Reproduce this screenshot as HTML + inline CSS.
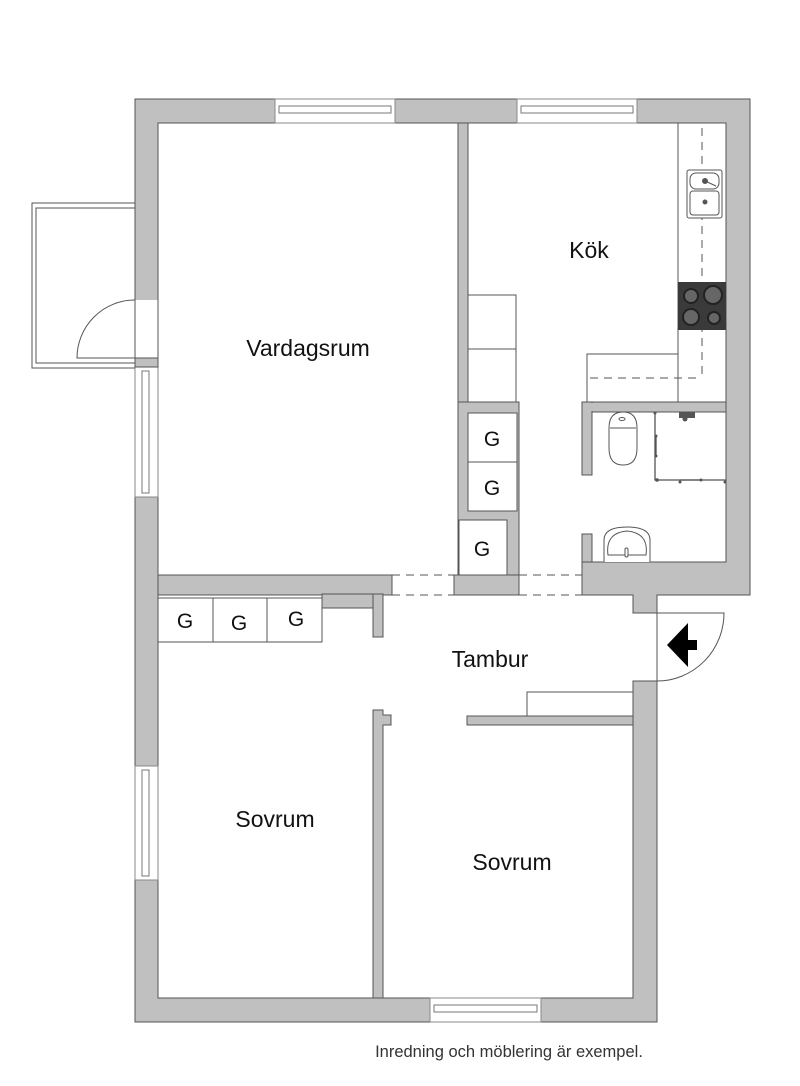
<!DOCTYPE html>
<html><head><meta charset="utf-8"><style>
html,body{margin:0;padding:0;background:#fff;width:800px;height:1086px;overflow:hidden}
svg{display:block}
text{font-family:"Liberation Sans",Arial,sans-serif;fill:#111}
</style></head><body>
<svg width="800" height="1086" viewBox="0 0 800 1086" xmlns="http://www.w3.org/2000/svg">
<g stroke="#555" stroke-width="1" fill="#c0c0c0">
<polygon points="135,99 750,99 750,595 657,595 657,1022 135,1022"/>
<polygon fill="#fff" points="158,123 726,123 726,562 582,562 582,595 633,595 633,613 657,613 657,681 633,681 633,998 158,998"/>
<rect x="458" y="123" width="10" height="279"/>
<rect x="458" y="402" width="61" height="193"/>
<rect x="454" y="575" width="65" height="20"/>
<rect x="158" y="575" width="234" height="20"/>
<rect x="322" y="594" width="51" height="14"/>
<rect x="373" y="594" width="10" height="43"/>
<path d="M373,710 H383 V715 H391 V725 H383 V998 H373 Z"/>
<rect x="467" y="716" width="166" height="9"/>
<rect x="582" y="402" width="144" height="10"/>
<rect x="582" y="402" width="10" height="73"/>
<rect x="582" y="534" width="10" height="28"/>
</g>
<rect x="583" y="403" width="10" height="8" fill="#c0c0c0"/>
<g fill="#fff" stroke="#555" stroke-width="1">
<rect x="468" y="295" width="48" height="54"/>
<rect x="468" y="349" width="48" height="53"/>
<rect x="468" y="413" width="49" height="49"/>
<rect x="468" y="462" width="49" height="49"/>
<rect x="459" y="520" width="48" height="55"/>
<rect x="678" y="123" width="48" height="279"/>
<rect x="587" y="354" width="91" height="48"/>
<rect x="158" y="598" width="55" height="44"/>
<rect x="213" y="598" width="54" height="44"/>
<rect x="267" y="598" width="55" height="44"/>
<rect x="527" y="692" width="106" height="24"/>
<rect x="275" y="99" width="120" height="24" stroke="#888"/>
<rect x="279" y="106" width="112" height="7" stroke="#777"/>
<rect x="517" y="99" width="120" height="24" stroke="#888"/>
<rect x="521" y="106" width="112" height="7" stroke="#777"/>
<rect x="135" y="367" width="23" height="130" stroke="#888"/>
<rect x="142" y="371" width="7" height="122" stroke="#777"/>
<rect x="135" y="766" width="23" height="114" stroke="#888"/>
<rect x="142" y="770" width="7" height="106" stroke="#777"/>
<rect x="430" y="998" width="111" height="24" stroke="#888"/>
<rect x="434" y="1005" width="103" height="7" stroke="#777"/>
</g>
<rect x="134" y="300" width="25" height="58" fill="#fff"/>
<line x1="158" y1="300" x2="158" y2="358" stroke="#555"/>
<rect x="135" y="358" width="23" height="9" fill="#c0c0c0" stroke="#555"/>
<g fill="none" stroke="#555">
<path d="M135,203 H32 V368 H135"/>
<path d="M135,208 H36 V363 H135"/>
<path d="M135,300 A58,58 0 0 0 77,358 H135"/>
<line x1="135" y1="300" x2="135" y2="358"/>
</g>
<g stroke="#555" stroke-dasharray="8,6" fill="none">
<line x1="392" y1="575" x2="454" y2="575"/>
<line x1="392" y1="595" x2="454" y2="595"/>
<line x1="519" y1="575" x2="582" y2="575"/>
<line x1="519" y1="595" x2="582" y2="595"/>
<line x1="702" y1="128" x2="702" y2="378"/>
<line x1="590" y1="378" x2="702" y2="378"/>
</g>
<rect x="633" y="613" width="24" height="68" fill="#fff"/>
<g fill="none" stroke="#555">
<line x1="657" y1="613" x2="657" y2="681"/>
<path d="M657,613 H724 A67,68 0 0 1 657,681"/>
<line x1="633" y1="681" x2="657" y2="681"/>
<line x1="633" y1="613" x2="657" y2="613"/>
</g>
<polygon points="667,645 688,623 688,640 697,640 697,650 688,650 688,667" fill="#000"/>
<g stroke="#555" fill="#fff">
<rect x="687" y="170" width="35" height="48" rx="2"/>
<rect x="690" y="173" width="29" height="16" rx="6"/>
<rect x="690" y="191" width="29" height="24" rx="3"/>
<circle cx="705" cy="181" r="2.5" fill="#555"/>
<circle cx="705" cy="202" r="2" fill="#555"/>
<line x1="705" y1="181" x2="716" y2="186"/>
</g>
<rect x="678" y="282" width="48" height="48" fill="#3a3a3a"/>
<g stroke="#222" fill="#666" stroke-width="2">
<circle cx="691" cy="296" r="7"/>
<circle cx="713" cy="295" r="9"/>
<circle cx="691" cy="317" r="8"/>
<circle cx="714" cy="318" r="6"/>
</g>
<g stroke="#555" fill="#fff">
<path d="M609,428 Q609,412 623,412 Q637,412 637,428 L637,448 Q637,465 623,465 Q609,465 609,448 Z"/>
<path d="M610,428 H636"/>
<ellipse cx="622" cy="419" rx="3" ry="1.5"/>
<path d="M604,562 V540 Q604,527 627,527 Q650,527 650,540 V562"/>
<path d="M608,555 Q605,533 627,531 Q649,533 646,555 Z"/>
<rect x="625" y="548" width="3" height="9" rx="1.5"/>
</g>
<g stroke="#555" fill="none" stroke-width="1.3">
<path d="M655,413 V480 H726"/>
<path d="M656,436 V456"/>
<path d="M680,480 H700"/>
</g>
<g fill="#555"><circle cx="655" cy="413" r="1.5"/><circle cx="656" cy="436" r="1.5"/><circle cx="656" cy="456" r="1.5"/><circle cx="657" cy="480" r="1.8"/><circle cx="680" cy="482" r="1.5"/><circle cx="701" cy="480" r="1.5"/><circle cx="725" cy="482" r="1.5"/>
<rect x="679" y="412" width="16" height="6"/><circle cx="685" cy="419" r="2.5"/></g>
<g font-size="23" text-anchor="middle">
<text x="308" y="356">Vardagsrum</text>
<text x="589" y="258">Kök</text>
<text x="490" y="667">Tambur</text>
<text x="275" y="827">Sovrum</text>
<text x="512" y="870">Sovrum</text>
</g>
<g font-size="21" text-anchor="middle">
<text x="492" y="446">G</text>
<text x="492" y="495">G</text>
<text x="482" y="556">G</text>
<text x="185" y="628">G</text>
<text x="239" y="630">G</text>
<text x="296" y="626">G</text>
</g>
<text x="509" y="1057" font-size="16.5" text-anchor="middle" style="fill:#333">Inredning och möblering är exempel.</text>
</svg>
</body></html>
